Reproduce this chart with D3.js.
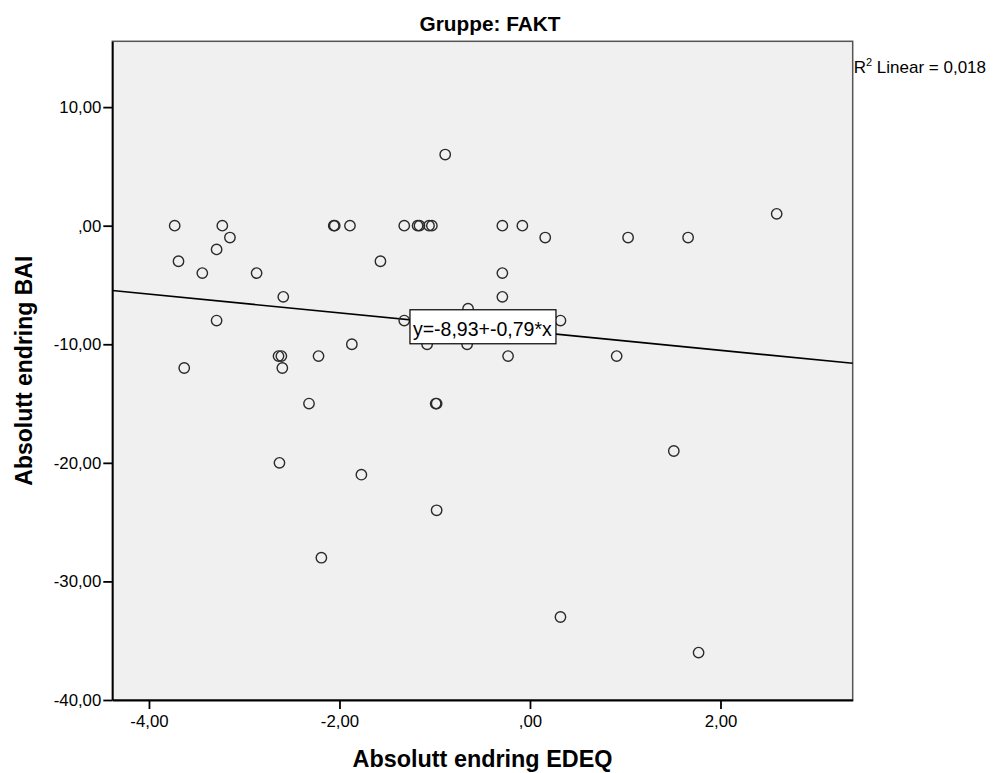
<!DOCTYPE html>
<html>
<head>
<meta charset="utf-8">
<script src="https://cdn.jsdelivr.net/npm/d3@7"></script>
<style>
  body { margin: 0; background: #ffffff; }
  svg text { font-family: "Liberation Sans", Arial, sans-serif; fill: #000; }
</style>
</head>
<body>
<div id="chart"></div>
<script>
//
// data
//
var edeqChange = [-3.73, -3.23, -3.15, -3.29, -3.69, -3.44, -2.87, -2.59, -3.29, -3.63,
                  -2.64, -2.61, -2.60, -2.22, -1.87, -2.06, -2.05, -1.89, -1.57, -1.32,
                  -1.18, -1.16, -1.06, -1.03, -0.89, -0.29, -0.08, 0.16, 1.03, 1.66,
                  2.59, -0.29, -0.29, -0.65, -1.32, 0.32, -1.08, -0.66, -0.23, 0.91,
                  -2.32, -0.99, -0.98, -2.63, -1.77, -0.98, -2.19, 1.51, 0.32, 1.77]
var baiChange = [0, 0, -1, -2, -3, -4, -4, -6, -8, -12,
                 -11, -11, -12, -11, -10, 0, 0, 0, -3, 0,
                 0, 0, 0, 0, 6, 0, 0, -1, -1, -1,
                 1, -4, -6, -7, -8, -8, -10, -10, -11, -11,
                 -15, -15, -15, -20, -21, -24, -28, -19, -33, -36]
var xTicks = [-4, -2, 0, 2]
var yTicks = [10, 0, -10, -20, -30, -40]
var fitLine = [-8.93, -0.79]   // intercept, slope
var rSquared = 0.018
//
// layout
//
var width = 994, height = 773
var pLeft = 112.3, pRight = 852.7, pTop = 41.3, pBottom = 700

var svg = d3.select('#chart')
  .append('svg')
  .attr('width', width)
  .attr('height', height)

var x = d3.scaleLinear().domain([-4.385, 3.388]).range([pLeft, pRight])
var y = d3.scaleLinear().domain([-40, 15.55]).range([pBottom, pTop])

// SPSS style number: comma decimal, plain hyphen, no leading zero for 0
function fmt(v) {
  var s = v.toFixed(2).replace('.', ',')
  if (s == '0,00') s = ',00'
  return s
}
//
// plot background + frame
//
svg.append('rect')
  .attr('x', pLeft)
  .attr('y', pTop)
  .attr('width', pRight - pLeft)
  .attr('height', pBottom - pTop)
  .attr('fill', '#f0f0f0')
  .attr('stroke', '#555')
  .attr('stroke-width', 1.5)
//
// axes
//
svg.append('g')
  .attr('transform', 'translate(0,' + pBottom + ')')
  .call(d3.axisBottom(x).tickValues(xTicks).tickFormat(fmt).tickSize(9).tickSizeOuter(0).tickPadding(6))
svg.append('g')
  .attr('transform', 'translate(' + pLeft + ',0)')
  .call(d3.axisLeft(y).tickValues(yTicks).tickFormat(fmt).tickSize(9).tickSizeOuter(0).tickPadding(2))

svg.selectAll('.domain').attr('stroke', '#000').attr('stroke-width', 1.8)
svg.selectAll('.tick line').attr('stroke', '#000').attr('stroke-width', 1.8)
svg.selectAll('.tick text')
  .style('font-family', '"Liberation Sans", Arial, sans-serif')
  .style('font-size', '16.8px')
  .attr('fill', '#111')
//
// fit line
//
var lineFunc = d3.line()
  .x(function(d) { return x(d) })
  .y(function(d) { return y(fitLine[0] + fitLine[1] * d) })

svg.append('path')
  .attr('d', lineFunc(x.domain()))
  .attr('stroke', '#000')
  .attr('stroke-width', 1.6)
  .attr('fill', 'none')
//
// points
//
svg.append('g')
  .selectAll('circle')
  .data(edeqChange)
  .join('circle')
  .attr('cx', function(d) { return x(d) })
  .attr('cy', function(d, i) { return y(baiChange[i]) })
  .attr('r', 5.2)
  .attr('fill', 'none')
  .attr('stroke', '#2a2a2a')
  .attr('stroke-width', 1.4)
//
// equation label on the line
//
var labX = -1.26
var lab = svg.append('g')
  .attr('transform', 'translate(' + x(labX) + ',' + (y(fitLine[0] + fitLine[1] * labX) - 10) + ')')
lab.append('rect')
  .attr('x', 0)
  .attr('y', 0)
  .attr('width', 146)
  .attr('height', 34)
  .attr('fill', '#fff')
  .attr('stroke', '#000')
  .attr('stroke-width', 1.2)
lab.append('text')
  .attr('x', 3)
  .attr('y', 26)
  .style('font-size', '19.5px')
  .text('y=' + fitLine[0].toFixed(2).replace('.', ',') + '+' + fitLine[1].toFixed(2).replace('.', ',') + '*x')
//
// titles
//
svg.append('text')
  .attr('x', 490)
  .attr('y', 31)
  .attr('text-anchor', 'middle')
  .style('font-size', '20.8px')
  .style('font-weight', 'bold')
  .text('Gruppe: FAKT')

var r2 = svg.append('text')
  .attr('x', pRight + 1)
  .attr('y', 72.5)
  .style('font-size', '17px')
r2.append('tspan').text('R')
r2.append('tspan').attr('dy', -7).style('font-size', '11px').text('2')
r2.append('tspan').attr('dy', 7).text(' Linear = ' + rSquared.toFixed(3).replace('.', ','))

svg.append('text')
  .attr('x', (pLeft + pRight) / 2)
  .attr('y', 767)
  .attr('text-anchor', 'middle')
  .style('font-size', '23.4px')
  .style('font-weight', 'bold')
  .text('Absolutt endring EDEQ')

svg.append('text')
  .attr('transform', 'translate(32,' + (pTop + pBottom) / 2 + ') rotate(-90)')
  .attr('text-anchor', 'middle')
  .style('font-size', '23px')
  .style('font-weight', 'bold')
  .text('Absolutt endring BAI')
</script>
</body>
</html>
